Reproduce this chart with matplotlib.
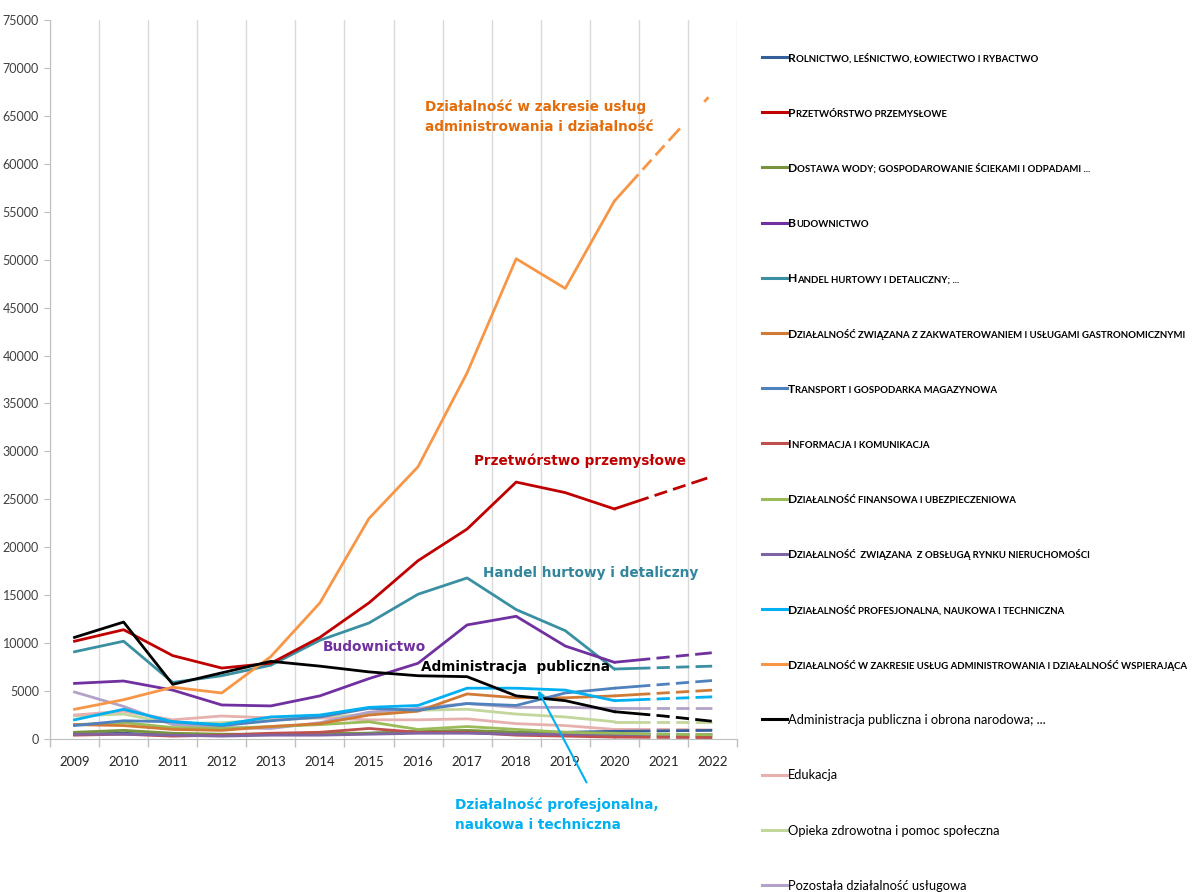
import matplotlib
matplotlib.use('Agg')
import matplotlib.pyplot as plt
from matplotlib.lines import Line2D
from matplotlib.transforms import IdentityTransform
from matplotlib.font_manager import FontProperties, findfont, get_font

plt.rcParams['font.family'] = ['Lato', 'DejaVu Sans']
plt.rcParams['lines.scale_dashes'] = False

years = ['2009', '2010', '2011', '2012', '2013', '2014', '2015',
         '2016', '2017', '2018', '2019', '2020', '2021', '2022']

rolnictwo = [500, 600, 400, 400, 500, 500, 600, 700, 800, 700, 700, 800, 850, 900]
przetworstwo = [10200, 11400, 8700, 7400, 7900, 10600, 14200, 18600, 21900, 26800, 25700, 24000, 25700, 27400]
dostawa_wody = [700, 900, 600, 500, 500, 600, 600, 800, 900, 700, 500, 400, 300, 200]
budownictwo = [5800, 6050, 5100, 3550, 3450, 4500, 6300, 7900, 11900, 12800, 9700, 8000, 8500, 9000]
handel = [9100, 10200, 5900, 6600, 7700, 10300, 12100, 15100, 16800, 13500, 11300, 7300, 7450, 7600]
zakwaterowanie = [1500, 1400, 1000, 900, 1300, 1600, 2500, 2900, 4700, 4300, 4300, 4500, 4800, 5100]
transport = [1400, 1900, 1800, 1400, 1900, 2300, 3200, 3000, 3700, 3500, 4800, 5300, 5700, 6100]
informacja = [400, 500, 300, 400, 600, 700, 1100, 700, 700, 400, 300, 200, 170, 150]
finansowa = [1500, 1700, 1200, 1100, 1300, 1500, 1800, 1000, 1300, 1000, 700, 600, 500, 450]
nieruchomosci = [500, 500, 400, 300, 400, 400, 500, 600, 600, 500, 500, 500, 500, 500]
profesjonalna = [2000, 3100, 1800, 1500, 2300, 2500, 3300, 3500, 5300, 5300, 5100, 4000, 4200, 4400]
administrowanie = [3100, 4100, 5400, 4800, 8600, 14200, 23000, 28400, 38200, 50100, 47000, 56100, 61800, 67400]
administracja = [10600, 12200, 5700, 6900, 8100, 7600, 7000, 6600, 6500, 4500, 4000, 2850, 2400, 1850]
edukacja = [2500, 2900, 2000, 2400, 2200, 2200, 2000, 2000, 2100, 1600, 1400, 1000, 1000, 950]
opieka = [2400, 2600, 1600, 1700, 2000, 2200, 2600, 3000, 3100, 2600, 2300, 1800, 1800, 1800]
pozostala = [4900, 3400, 1500, 1200, 1100, 1700, 2800, 3200, 3700, 3300, 3300, 3200, 3200, 3200]

labels = [
    'Rolnictwo, leśnictwo, łowiectwo i rybactwo',
    'Przetwórstwo przemysłowe',
    'Dostawa wody; gospodarowanie ściekami i odpadami ...',
    'Budownictwo',
    'Handel hurtowy i detaliczny; ...',
    'Działalność związana z zakwaterowaniem i usługami gastronomicznymi',
    'Transport i gospodarka magazynowa',
    'Informacja i komunikacja',
    'Działalność finansowa i ubezpieczeniowa',
    'Działalność  związana  z obsługą rynku nieruchomości',
    'Działalność profesjonalna, naukowa i techniczna',
    'Działalność w zakresie usług administrowania i działalność wspierająca',
    'Administracja publiczna i obrona narodowa; ...',
    'Edukacja',
    'Opieka zdrowotna i pomoc społeczna',
    'Pozostała działalność usługowa',
]
series = [rolnictwo, przetworstwo, dostawa_wody, budownictwo, handel, zakwaterowanie,
          transport, informacja, finansowa, nieruchomosci, profesjonalna, administrowanie,
          administracja, edukacja, opieka, pozostala]
colors = ['#355E9B', '#C00000', '#77933C', '#7030A0', '#3A90A2', '#D07A35',
          '#4F81BD', '#C0504D', '#9BBB59', '#8064A2', '#00B0F0', '#F79646',
          '#000000', '#E6B0AE', '#C3D69B', '#B3A2C7']
smallcaps = [True] * 12 + [False] * 4

fig = plt.figure(figsize=(11.92, 8.92), dpi=100)
ax = fig.add_axes([50 / 1192, 1 - 739 / 892, 687 / 1192, 719 / 892])

x = list(range(len(years)))
forecast_style = (0, (26, 4.5, 9.5, 4.5, 9.5, 4.5, 12))
draw_order = [14, 13, 15, 0, 2, 7, 9, 8, 5, 6, 10, 4, 3, 1, 11, 12]
for i in draw_order:
    ax.plot(x[:12], series[i][:12], color=colors[i], lw=2.0, solid_joinstyle='round', zorder=3)
    ax.plot(x[11:], series[i][11:], color=colors[i], lw=2.0, linestyle=forecast_style, zorder=3)

ax.set_xlim(-0.5, len(years) - 0.5)
ax.set_ylim(0, 75000)
ax.set_yticks(range(0, 75001, 5000))
ax.set_xticks(x)
ax.set_xticklabels(years)
ax.set_xticks([v - 0.5 for v in range(len(years) + 1)], minor=True)
ax.tick_params(axis='x', which='major', length=0, pad=12, labelsize=9.5, labelcolor='#262626')
ax.tick_params(axis='x', which='minor', length=6, color='#BFBFBF', width=1)
ax.tick_params(axis='y', length=4, color='#BFBFBF', labelsize=9, labelcolor='#404040', pad=4)
ax.grid(axis='x', which='minor', color='#D9D9D9', lw=1)
for s in ['top', 'right']:
    ax.spines[s].set_visible(False)
for s in ['left', 'bottom']:
    ax.spines[s].set_color('#BFBFBF')

ann = dict(family='DejaVu Sans', fontweight='bold', fontsize=9.8, va='center', ha='left')
ax.text(7.14, 64900, 'Działalność w zakresie usług\nadministrowania i działalność',
        color='#E46C0A', linespacing=1.6, **ann)
ax.text(8.14, 29060, 'Przetwórstwo przemysłowe', color='#C00000', **ann)
ax.text(8.32, 17290, 'Handel hurtowy i detaliczny', color='#31859C', **ann)
ax.text(5.06, 9580, 'Budownictwo', color='#7030A0', **ann)
ax.text(7.06, 7500, 'Administracja  publiczna', color='#000000', **ann)
ax.text(7.75, -7900, 'Działalność profesjonalna,\nnaukowa i techniczna',
        color='#00B0F0', linespacing=1.6, **ann)
ax.annotate('', xy=(9.42, 5310), xytext=(10.46, -4790),
            arrowprops=dict(arrowstyle='-|>', color='#00B0F0', lw=1.5, mutation_scale=9),
            annotation_clip=False)

# legenda rysowana recznie (kapitaliki)
H = 892
bold_font = get_font(findfont(FontProperties(family='Lato', weight='bold')))


def advance(s, size):
    bold_font.set_size(size, 100)
    return sum(bold_font.load_char(ord(c)).linearHoriAdvance for c in s) / 65536.0


BIG, SMALL = 8.7, 6.9
for i, lab in enumerate(labels):
    y_line = 57 + 55.2 * i
    fig.add_artist(Line2D([762, 787], [H - y_line, H - y_line], color=colors[i], lw=2.2,
                          transform=IdentityTransform()))
    xpos = 788
    base = H - (y_line + 4.7)
    if smallcaps[i]:
        runs = []
        for ch in lab:
            big = ch.isupper()
            if runs and runs[-1][0] == big:
                runs[-1][1] += ch
            else:
                runs.append([big, ch])
        for big, s in runs:
            size = BIG if big else SMALL
            txt = s if big else s.upper()
            fig.text(xpos, base, txt, fontsize=size, fontweight='bold', color='#000000',
                     va='baseline', transform=IdentityTransform())
            xpos += advance(txt, size)
    else:
        fig.text(xpos, base, lab, fontsize=9.3, color='#000000', va='baseline',
                 transform=IdentityTransform())

fig.savefig('out.png', dpi=100)
